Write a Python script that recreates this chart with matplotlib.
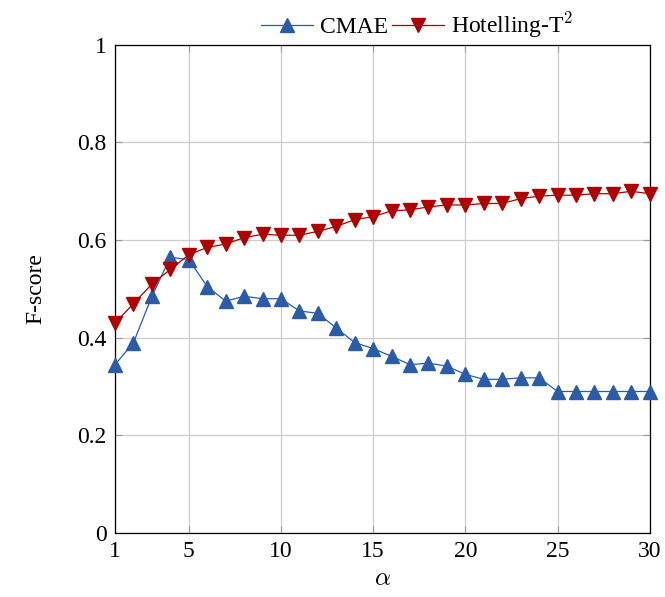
import matplotlib

matplotlib.use("Agg")
import matplotlib.pyplot as plt

alpha = list(range(1, 31))
cmae = [0.345, 0.390, 0.485, 0.565, 0.560, 0.505, 0.475, 0.485, 0.480, 0.480,
        0.455, 0.450, 0.420, 0.390, 0.378, 0.362, 0.345, 0.348, 0.342, 0.325,
        0.315, 0.315, 0.318, 0.318, 0.290, 0.290, 0.290, 0.290, 0.290, 0.290]
hotelling = [0.430, 0.470, 0.510, 0.540, 0.570, 0.585, 0.592, 0.605, 0.612, 0.610,
             0.610, 0.618, 0.628, 0.642, 0.648, 0.660, 0.662, 0.668, 0.672, 0.672,
             0.675, 0.675, 0.685, 0.690, 0.692, 0.692, 0.695, 0.695, 0.700, 0.695]
x_ticks = [1, 5, 10, 15, 20, 25, 30]
y_ticks = [0, 0.2, 0.4, 0.6, 0.8, 1]
y_tick_labels = ["0", "0.2", "0.4", "0.6", "0.8", "1"]

plt.rcParams["font.family"] = ["Liberation Serif", "DejaVu Serif"]
plt.rcParams["mathtext.fontset"] = "cm"

fig = plt.figure(figsize=(6.65, 5.97), dpi=100)
ax = fig.add_axes([0.173, 0.107, 0.804, 0.818])

ax.plot(alpha, cmae, "-^", color="#2a5caa", linewidth=0.9, markersize=10.5,
        label="CMAE", clip_on=False, zorder=3)
ax.plot(alpha, hotelling, "-v", color="#b00000", linewidth=0.9, markersize=10.5,
        label="Hotelling-T$^2$", clip_on=False, zorder=3)

ax.set_xlim(1, 30)
ax.set_ylim(0, 1)
ax.set_xticks(x_ticks)
ax.set_yticks(y_ticks)
ax.set_yticklabels(y_tick_labels)
ax.grid(True, color="#cccccc", linewidth=0.9)
ax.set_axisbelow(True)
ax.tick_params(direction="in", top=True, right=True, labelsize=17, length=5,
               color="#999999", pad=6)
for spine in ax.spines.values():
    spine.set_linewidth(0.9)

ax.set_xlabel(r"$\alpha$", fontsize=18, labelpad=4)
ax.set_ylabel("F-score", fontsize=17, labelpad=22)

ax.legend(loc="lower center", bbox_to_anchor=(0.565, 0.99), ncol=2, frameon=False,
          fontsize=17, handlelength=2.2, columnspacing=0.2, handletextpad=0.3,
          borderaxespad=0.0)

fig.savefig("out.png", dpi=100)
